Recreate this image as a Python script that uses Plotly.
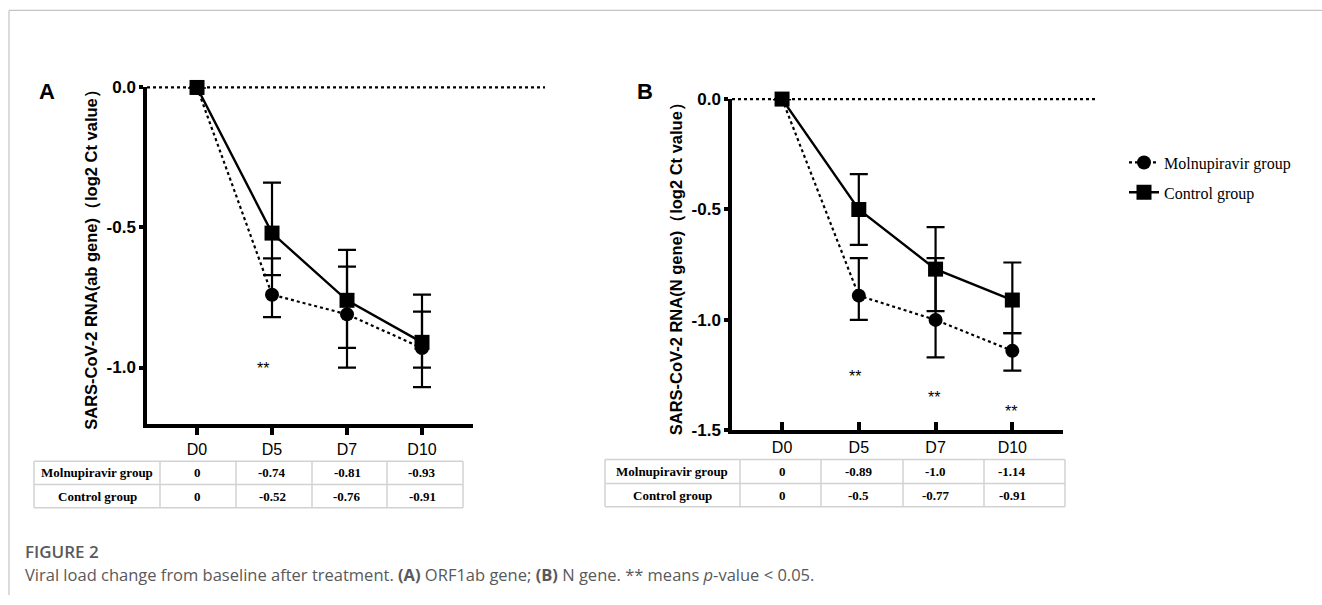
import plotly.graph_objects as go

W, H = 1322, 605

days = ["D0", "D5", "D7", "D10"]
day_pos = [0, 1, 2, 3]

# Panel A (ORF1ab gene)
a_mol = [0, -0.74, -0.81, -0.93]
a_mol_up = [0, 0.13, 0.17, 0.13]
a_mol_dn = [0, 0.08, 0.19, 0.14]
a_ctl = [0, -0.52, -0.76, -0.91]
a_ctl_up = [0, 0.18, 0.18, 0.17]
a_ctl_dn = [0, 0.15, 0.17, 0.09]
a_yticks = [0.0, -0.5, -1.0]
a_yticktext = ["0.0", "-0.5", "-1.0"]
a_sig_x = [0.88]
a_sig_y = [-1.005]

# Panel B (N gene)
b_mol = [0, -0.89, -1.0, -1.14]
b_mol_up = [0, 0.17, 0.28, 0.08]
b_mol_dn = [0, 0.11, 0.17, 0.09]
b_ctl = [0, -0.5, -0.77, -0.91]
b_ctl_up = [0, 0.16, 0.19, 0.17]
b_ctl_dn = [0, 0.16, 0.19, 0.15]
b_yticks = [0.0, -0.5, -1.0, -1.5]
b_yticktext = ["0.0", "-0.5", "-1.0", "-1.5"]
b_sig_x = [0.95, 1.98, 2.98]
b_sig_y = [-1.255, -1.35, -1.415]

mol_name = "Molnupiravir group"
ctl_name = "Control group"

def px_x(v):
    return v / W

def px_y(v):
    return 1 - v / H

fig = go.Figure()

def add_panel(xa, ya, mol, mol_up, mol_dn, ctl, ctl_up, ctl_dn, showlegend):
    fig.add_trace(go.Scatter(
        x=day_pos, y=mol, name=mol_name, mode="lines+markers",
        line=dict(color="black", width=2.2, dash="dot"),
        marker=dict(symbol="circle", size=14, color="black"),
        error_y=dict(type="data", symmetric=False, array=mol_up, arrayminus=mol_dn,
                     color="black", thickness=2.2, width=9),
        cliponaxis=False, xaxis=xa, yaxis=ya, showlegend=showlegend,
        legendgroup="m"))
    fig.add_trace(go.Scatter(
        x=day_pos, y=ctl, name=ctl_name, mode="lines+markers",
        line=dict(color="black", width=2.4),
        marker=dict(symbol="square", size=15, color="black"),
        error_y=dict(type="data", symmetric=False, array=ctl_up, arrayminus=ctl_dn,
                     color="black", thickness=2.2, width=9),
        cliponaxis=False, xaxis=xa, yaxis=ya, showlegend=showlegend,
        legendgroup="c"))

add_panel("x", "y", a_mol, a_mol_up, a_mol_dn, a_ctl, a_ctl_up, a_ctl_dn, True)
add_panel("x2", "y2", b_mol, b_mol_up, b_mol_dn, b_ctl, b_ctl_up, b_ctl_dn, False)

tick_font = dict(family="Arial, Liberation Sans", size=17, color="black", weight="bold")
xtick_font = dict(family="Arial, Liberation Sans", size=16, color="black")
title_font = dict(family="Arial, Liberation Sans", size=16.5, color="black", weight="bold")

axis_common = dict(showline=True, linewidth=3.5, linecolor="black",
                   tickwidth=3.5, tickcolor="black", showgrid=False, zeroline=False,
                   fixedrange=True)

fig.update_layout(
    xaxis=dict(domain=[px_x(147), px_x(473)], range=[-0.667, 3.68], ticks="outside",
               tickvals=day_pos, ticktext=days, ticklen=8, tickfont=xtick_font,
               anchor="y", **axis_common),
    yaxis=dict(domain=[px_y(428), px_y(81)], range=[-1.2, 0], ticks="outside",
               tickvals=a_yticks, ticktext=a_yticktext, ticklen=4, tickfont=tick_font,
               title=dict(text="SARS-CoV-2 RNA(ab gene)\uff08log2 Ct value\uff09",
                          font=title_font, standoff=6),
               anchor="x", **axis_common),
    xaxis2=dict(domain=[px_x(732), px_x(1063)], range=[-0.652, 3.66], ticks="inside",
                tickvals=day_pos, ticktext=days, ticklen=9, tickfont=xtick_font,
                anchor="y2", **axis_common),
    yaxis2=dict(domain=[px_y(435), px_y(93)], range=[-1.5, 0], ticks="outside",
                tickvals=b_yticks, ticktext=b_yticktext, ticklen=4, tickfont=tick_font,
                title=dict(text="SARS-CoV-2 RNA(N gene)\uff08log2 Ct value\uff09",
                           font=title_font, standoff=6),
                anchor="x2", **axis_common),
)

# dotted baseline at 0
fig.add_shape(type="line", xref="x domain", yref="y domain", x0=0, x1=1.221, y0=1, y1=1,
              line=dict(color="black", width=2.2, dash="dot"), layer="below")
fig.add_shape(type="line", xref="x2 domain", yref="y2 domain", x0=0, x1=1.103, y0=1, y1=1,
              line=dict(color="black", width=2.2, dash="dot"), layer="below")

# significance marks
for xs, ys, xr, yr in [(a_sig_x, a_sig_y, "x", "y"), (b_sig_x, b_sig_y, "x2", "y2")]:
    for sx, sy in zip(xs, ys):
        fig.add_annotation(x=sx, y=sy, xref=xr, yref=yr, text="**", showarrow=False,
                           xanchor="center", yanchor="middle",
                           font=dict(family="Arial, Liberation Sans", size=16, color="black"))

# tables (text placed on the panel's x scale, grid as decoration)
grid = dict(color="#d2d2d2", width=1.5)
tfont = dict(family="Times New Roman, Liberation Serif", size=13, color="black")

def add_table(xr, left, right, label_cx, dividers, top, mid, bottom, mol, ctl):
    for yy in (top, mid, bottom):
        fig.add_shape(type="line", xref="paper", yref="paper", x0=px_x(left), x1=px_x(right),
                      y0=px_y(yy), y1=px_y(yy), line=grid)
    for xx in [left] + dividers + [right]:
        fig.add_shape(type="line", xref="paper", yref="paper", x0=px_x(xx), x1=px_x(xx),
                      y0=px_y(top), y1=px_y(bottom), line=grid)
    rows = [(mol_name, mol, (top + mid) / 2), (ctl_name, ctl, (mid + bottom) / 2)]
    for name, vals, cy in rows:
        fig.add_annotation(x=px_x(label_cx), y=px_y(cy), xref="paper", yref="paper",
                           text="<b>%s</b>" % name, showarrow=False,
                           xanchor="center", yanchor="middle", font=tfont)
        for p, v in zip(day_pos, vals):
            fig.add_annotation(x=p, y=px_y(cy), xref=xr, yref="paper",
                               text="<b>%s</b>" % v, showarrow=False,
                               xanchor="center", yanchor="middle", font=tfont)

add_table("x", 34, 463, 97, [160, 236, 312, 387], 467, 491, 515, a_mol, a_ctl)
add_table("x2", 605, 1065, 672, [740, 821, 903, 984], 465, 490, 514, b_mol, b_ctl)

# panel letters
for letter, lx in (("A", 47), ("B", 645)):
    fig.add_annotation(x=px_x(lx), y=px_y(85), xref="paper", yref="paper",
                       text="<b>%s</b>" % letter, showarrow=False,
                       xanchor="center", yanchor="middle",
                       font=dict(family="Arial, Liberation Sans", size=22, color="black"))

# caption
fig.add_annotation(x=px_x(23), y=px_y(560), xref="paper", yref="paper",
                   xanchor="left", yanchor="middle",
                   text="FIGURE 2", showarrow=False,
                   font=dict(family="Open Sans, Noto Sans", size=17, color="#58595b", weight=600))
fig.add_annotation(x=px_x(23), y=px_y(584), xref="paper", yref="paper",
                   xanchor="left", yanchor="middle",
                   text="Viral load change from baseline after treatment. <b>(A)</b> ORF1ab gene; "
                        "<b>(B)</b> N gene. ** means <i>p</i>-value &lt; 0.05.",
                   showarrow=False,
                   font=dict(family="Open Sans, Noto Sans", size=16.5, color="#58595b"))

# frame
fig.add_shape(type="line", xref="paper", yref="paper", x0=px_x(9), x1=1, y0=px_y(1.5), y1=px_y(1.5),
              line=dict(color="#c4c4c4", width=1.2))
fig.add_shape(type="line", xref="paper", yref="paper", x0=px_x(9), x1=px_x(9), y0=px_y(1.5), y1=0,
              line=dict(color="#c4c4c4", width=1.2))

fig.update_layout(
    width=W, height=H, margin=dict(l=0, r=0, t=0, b=0),
    paper_bgcolor="white", plot_bgcolor="white",
    legend=dict(x=px_x(1124), y=px_y(141), xanchor="left", yanchor="top",
                font=dict(family="Times New Roman, Liberation Serif", size=16, color="black"),
                tracegroupgap=6, bgcolor="rgba(0,0,0,0)"),
)

fig.write_html("out.html", config={"displayModeBar": False},
               post_script="document.body.style.margin='0';document.body.style.overflow='hidden';")
